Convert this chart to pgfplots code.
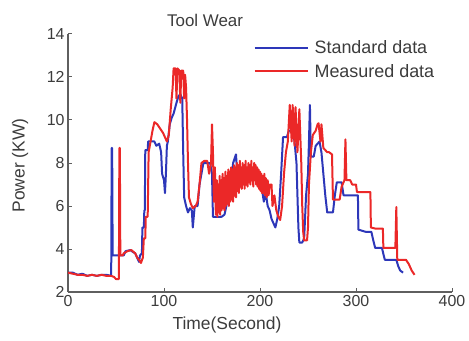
\documentclass[border=0pt]{standalone}
\usepackage{pgfplots}
\pgfplotsset{compat=1.18}
\usepackage{fontspec}
\setmainfont{Liberation Sans}
\definecolor{stdblue}{RGB}{45,55,185}
\definecolor{measred}{RGB}{235,40,40}
\definecolor{axgray}{RGB}{95,95,95}
\definecolor{txtgray}{RGB}{60,60,60}
\begin{document}
\begin{tikzpicture}
\useasboundingbox (-68bp,-49bp) rectangle (401bp,292bp);
\begin{axis}[
  at={(0,0)}, anchor=south west,
  scale only axis, width=384bp, height=258bp,
  xmin=0, xmax=400, ymin=2, ymax=14,
  xtick={0,100,200,300,400}, ytick={2,4,6,8,10,12,14},
  axis x line*=bottom, axis y line*=left,
  axis line style={-, axgray, line width=1.2bp},
  tick align=inside, major tick length=4bp,
  tick style={axgray, line width=1bp},
  tick label style={font=\fontsize{16}{18}\selectfont, text=txtgray},
  /pgf/number format/assume math mode=true,
  xlabel={Time(Second)}, ylabel={Power (KW)},
  label style={font=\fontsize{17.5}{20}\selectfont, text=txtgray},
  x label style={at={(ticklabel cs:0.414)}, anchor=near ticklabel, yshift=-3bp},
  y label style={at={(axis description cs:-0.125,0.49)}, anchor=center},
  title={Tool Wear},
  title style={at={(axis description cs:0.357,1)}, anchor=center, yshift=8bp, font=\fontsize{17}{19}\selectfont, text=txtgray},
  legend style={at={(axis description cs:0.475,0.99)}, anchor=north west, draw=none, fill=none,
    font=\fontsize{18}{20}\selectfont, text=txtgray, row sep=5bp},
  legend cell align=left,
  legend image code/.code={\draw[#1] (0bp,0bp) -- (53bp,0bp); \path (57bp,0bp);},
  clip=false,
]
\addplot[stdblue, line width=2bp, line join=round] coordinates {
(0,2.9)(5,2.9)(10,2.8)(15,2.85)(20,2.75)(25,2.8)(30,2.75)(35,2.8)(40,2.8)(45,2.75)
(45.5,8.7)(46,8.7)(46.5,3.7)(55,3.7)(58,3.7)(60,3.9)(65,3.95)(68,3.85)(70,3.8)(72,3.6)(74,3.4)(75,3.7)(77,3.8)
(77.5,5.0)(79,5.0)(79.5,5.8)(80,5.8)(80.5,8.6)(83,8.6)(83.5,9.0)(90,9.0)(92,8.8)(95,8.9)(97,8.5)(98,7.5)(100,7.2)(101,6.6)
(102,7.5)(103,8.8)(104,9.0)(106,9.8)(108,10.1)(110,10.3)(113,10.8)(115,11.1)(117,11.2)(119,11.0)(120,8.5)(121,6.4)
(123,6.0)(125,5.7)(127,5.9)(129,5.8)(130,5.0)(131,5.5)(132,6.0)(135,6.0)(137,7.0)(139,7.5)(141,8.0)(145,8.0)(148,8.0)
(150,7.5)(151,5.5)(155,5.5)(160,5.5)(163,5.6)(165,6.0)(168,6.8)(170,7.2)(172,8.0)(175,8.4)(177,7.0)(178,7.8)(180,7.2)
(183,7.6)(185,7.0)(188,7.5)(190,7.2)(193,7.7)(195,7.4)(198,7.0)(200,7.4)(202,6.8)(204,6.2)(206,6.6)(208,6.0)(210,5.8)
(212,5.4)(214,5.2)(216,5.0)(218,5.4)(220,6.0)(222,7.5)(224,9.2)(228,9.2)(230,9.5)(234,9.5)(236,9.0)(238,8.0)(240,5.0)
(241,4.3)(244,4.3)(246,4.5)(248,6.5)(250,7.5)(251,9.0)(252,10.7)(253,8.3)(256,8.3)(258,8.8)(262,9.0)(264,8.5)(266,7.5)
(268,6.5)(270,5.7)(276,5.7)(278,6.5)(280,7.1)(285,7.1)(287,6.5)(302,6.5)(302.5,4.9)(310,4.8)(316,4.8)(318,4.4)(320,4.05)
(327,4.05)(330,3.5)(342,3.5)(344,3.2)(346,3.0)(349,2.9)
};
\addlegendentry{Standard data}
\addplot[measred, line width=2bp, line join=round] coordinates {
(0,2.9)(5,2.85)(10,2.8)(15,2.8)(20,2.75)(25,2.8)(30,2.75)(35,2.8)(40,2.75)(45,2.75)(48,2.7)(50,2.6)(53,2.6)
(53.5,8.7)(54,8.7)(54.5,3.7)(57,3.7)(58,3.8)(62,3.9)(66,3.95)(70,3.8)(72,3.6)(74,3.5)(76,3.35)(78,3.6)(79,4.5)(80.5,4.5)
(81,5.5)(83,5.5)(84,8.5)(86,9.0)(88,9.5)(90,9.9)(93,9.8)(96,9.6)(99,9.4)(101,9.2)(103,9.0)(105,9.3)(107,10.5)(108,11.0)
(109,11.5)(110,12.4)(112,12.4)(113,11.0)(114,12.4)(116,12.3)(117,10.8)(118,12.3)(120,12.3)(121,11.0)(122,12.1)(123,11.5)
(124,10.0)(125,8.0)(126,6.4)(128,6.1)(130,5.9)(133,6.0)(135,6.2)(137,7.0)(139,8.0)(142,8.1)(145,8.1)(147,7.5)(149,8.0)
(150,9.8)(151,8.5)(152,6.2)(153,7.8)(154,5.6)
(155,7.2)(155.5,5.5)(156.5,7.0)(157,5.7)(158,7.4)(158.5,5.6)(159.5,7.2)(160,5.8)(161,7.5)(161.5,5.9)(162.5,7.3)(163,5.8)
(164,7.6)(164.5,6.0)(165.5,7.4)(166,6.1)(167,7.7)(167.5,6.0)(168.5,7.6)(169,6.2)(170,7.8)(170.5,6.3)(171.5,7.7)(172,6.2)
(173,7.9)(173.5,6.5)(174.5,7.8)(175,6.4)(176,8.0)(176.5,6.7)(177.5,7.9)(178,6.6)(179,8.1)(179.5,6.9)(180.5,7.8)(181,6.8)
(182,8.0)(182.5,7.0)(183.5,7.9)(184,6.8)(185,8.1)(185.5,7.0)(186.5,7.8)(187,6.9)(188,8.0)(188.5,7.1)(189.5,7.9)(190,7.0)
(191,8.1)(191.5,7.2)(192.5,7.8)(193,6.9)(194,8.0)(194.5,7.2)(195.5,7.9)(196,7.0)(197,7.8)(197.5,6.9)(198.5,7.7)(199,6.8)
(200,7.6)(200.5,6.7)(201.5,7.5)(202,6.6)(203,7.4)(203.5,6.6)(204.5,7.5)(205,6.5)(206,7.3)(207,6.4)
(208,7.2)(209,6.5)(210,7.0)(212,7.0)(213,6.0)(215,6.5)(217,5.8)(219,5.5)(221,5.35)(223,6.0)(225,7.5)(227,8.5)
(229,9.0)(231,10.7)(233,9.0)(234,10.7)(236,8.8)(237,10.6)(239,8.5)(241,10.5)(243,8.0)(244,6.0)(245,4.8)(246,4.4)(249,4.4)
(250,5.0)(251,7.0)(253,8.5)(255,9.3)(258,9.5)(260,9.8)(261,9.85)(263,9.0)(264,9.8)(266,8.7)(270,8.5)(272,8.5)(275,8.4)
(276,6.3)(283,6.3)(285,6.9)(288,7.2)(289,9.1)(290,7.2)(294,7.2)(296,7.0)(300,7.0)(301,6.65)(315,6.65)(315.5,5.0)
(320,4.95)(328,4.95)(328.5,4.05)(341,4.05)(342,5.95)(343,3.5)(352,3.5)(355,3.3)(358,3.0)(361,2.8)
};
\addlegendentry{Measured data}
\end{axis}
\end{tikzpicture}
\end{document}
